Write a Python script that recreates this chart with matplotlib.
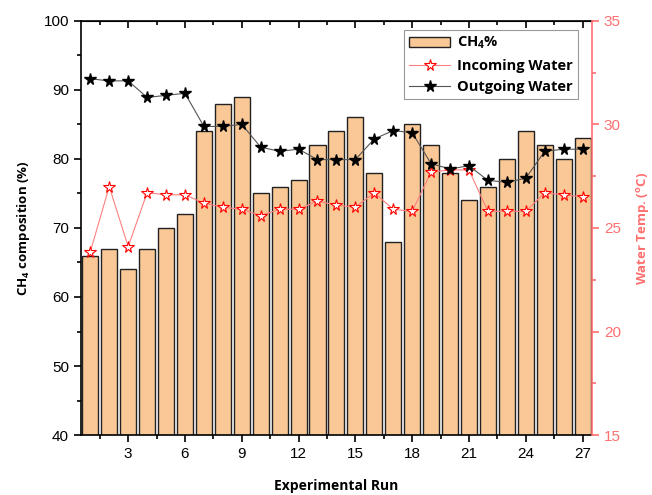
import matplotlib
matplotlib.use('Agg')
import matplotlib.pyplot as plt
from matplotlib.ticker import MultipleLocator
import numpy as np

plt.rcParams['font.family'] = ['Liberation Sans', 'DejaVu Sans']
plt.rcParams['mathtext.fontset'] = 'custom'
plt.rcParams['mathtext.rm'] = 'Open Sans:bold'
plt.rcParams['mathtext.default'] = 'rm'

runs = np.arange(1, 28)
ch4 = [66, 67, 64, 67, 70, 72, 84, 88, 89, 75, 76, 77, 82, 84, 86,
       78, 68, 85, 82, 78, 74, 76, 80, 84, 82, 80, 83]
incoming = [23.85, 27.0, 24.1, 26.7, 26.6, 26.6, 26.2, 26.0, 25.9, 25.6, 25.9, 25.9, 26.3, 26.1,
            26.0, 26.7, 25.9, 25.8, 27.7, 27.8, 27.8, 25.8, 25.8, 25.8, 26.7, 26.6, 26.5]
outgoing = [32.2, 32.1, 32.1, 31.3, 31.4, 31.5, 29.9, 29.9, 30.0, 28.9, 28.7, 28.8, 28.3, 28.3,
            28.3, 29.3, 29.7, 29.6, 28.1, 27.85, 28.0, 27.3, 27.2, 27.4, 28.7, 28.8, 28.8]

red = '#FF6F6F'
bold = {'family': 'Open Sans', 'weight': 'bold'}

fig = plt.figure(figsize=(6.52, 4.95), dpi=100)
ax = fig.add_axes([0.124, 0.121, 0.784, 0.837])

bars = ax.bar(runs, ch4, width=0.85, color='#FAC896', edgecolor='#222222', linewidth=1,
              label=r'CH$_4$%', zorder=2)
ax.set_xlim(0.5, 27.5)
ax.set_ylim(40, 100)
ax.xaxis.set_major_locator(MultipleLocator(3))
ax.xaxis.set_minor_locator(MultipleLocator(1.5))
ax.yaxis.set_major_locator(MultipleLocator(10))
ax.yaxis.set_minor_locator(MultipleLocator(5))
ax.tick_params(which='both', direction='out', labelsize=11, width=1.2)
ax.tick_params(which='major', length=5)
ax.tick_params(which='minor', length=3)
ax.spines['right'].set_visible(False)
for s in ['left', 'bottom', 'top']:
    ax.spines[s].set_linewidth(1.2)

top = ax.secondary_xaxis('top')
top.xaxis.set_major_locator(MultipleLocator(3))
top.xaxis.set_minor_locator(MultipleLocator(1.5))
top.tick_params(which='both', direction='in', labeltop=False, width=1.2)
top.tick_params(which='major', length=5)
top.tick_params(which='minor', length=3)

ax.set_xlabel('Experimental Run', fontdict=bold, fontsize=10, labelpad=13)
ax.set_ylabel(r'CH$_4$ composition (%)', fontdict=bold, fontsize=9.5, labelpad=8)

ax2 = ax.twinx()
l1, = ax2.plot(runs, incoming, '-', color='#FF8080', linewidth=0.8, marker='*', markersize=8.5,
               markerfacecolor='white', markeredgecolor='red', markeredgewidth=0.8,
               label='Incoming Water')
l2, = ax2.plot(runs, outgoing, '-', color='#555555', linewidth=0.8, marker='*', markersize=8.5,
               markerfacecolor='black', markeredgecolor='black', label='Outgoing Water')
ax2.set_ylim(15, 35)
ax2.yaxis.set_major_locator(MultipleLocator(5))
ax2.yaxis.set_minor_locator(MultipleLocator(2.5))
ax2.tick_params(which='both', direction='out', labelsize=11, colors=red, width=1.2)
ax2.tick_params(which='major', length=5)
ax2.tick_params(which='minor', length=3)
ax2.spines['right'].set_color(red)
ax2.spines['right'].set_linewidth(1.2)
for s in ['left', 'top', 'bottom']:
    ax2.spines[s].set_visible(False)
ax2.set_ylabel(r'Water Temp. ($^{o}$C)', fontdict=bold, fontsize=9.5, color=red, labelpad=10)

leg = ax2.legend([bars, l1, l2], [r'CH$_4$%', 'Incoming Water', 'Outgoing Water'],
                 loc='upper right', bbox_to_anchor=(0.973, 0.978), borderaxespad=0,
                 fancybox=False, edgecolor='#999999', framealpha=1,
                 prop={'family': 'Open Sans', 'weight': 'bold', 'size': 10.5},
                 handlelength=2.8, borderpad=0.35, labelspacing=0.5, handletextpad=0.5)
leg.get_frame().set_linewidth(0.8)

fig.savefig('out.png', dpi=100)
